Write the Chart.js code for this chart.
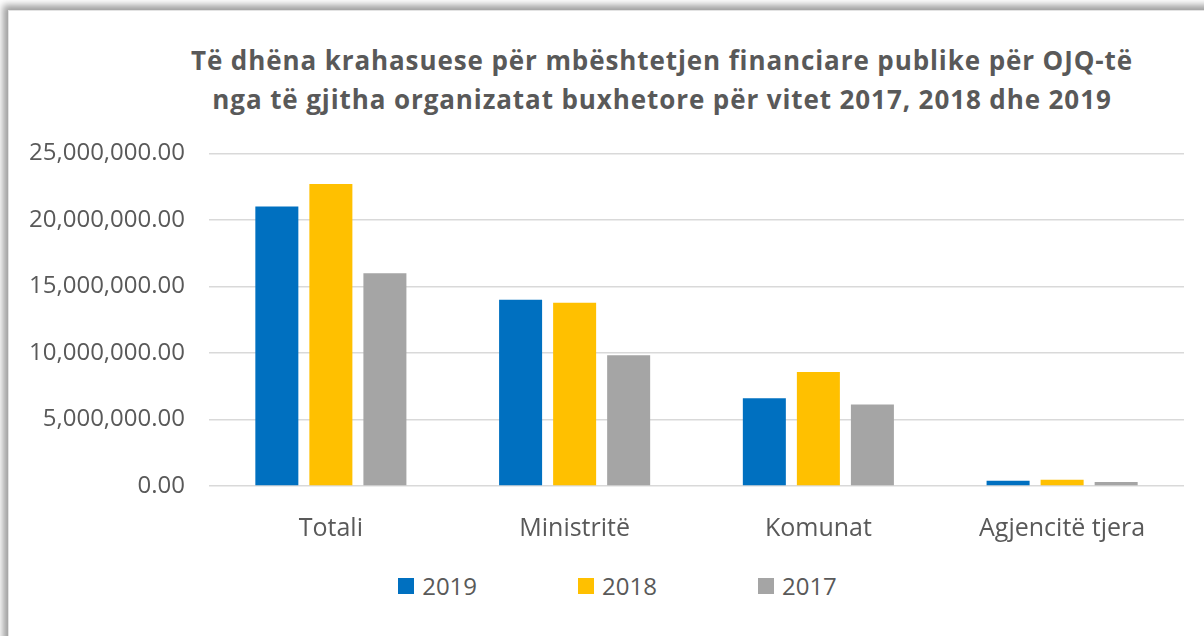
<!DOCTYPE html>
<html>
<head>
<meta charset="utf-8">
<script src="https://cdn.jsdelivr.net/npm/chart.js@4"></script>
<style>
  html, body { margin: 0; padding: 0; width: 1204px; height: 636px; overflow: hidden; background: #fff; }
  .frame {
    position: absolute; left: 8px; top: 10px; width: 1400px; height: 800px;
    background: #fff; border-left: 1px solid #e3e3e3; border-top: 1px solid #e3e3e3;
    box-shadow: -4px -4px 7px 1px rgba(0,0,0,0.38);
  }
  .title {
    position: absolute; left: 162px; top: 41px; width: 1000px;
    text-align: center; font: bold 26px "Open Sans", sans-serif; letter-spacing: 0.9px;
    line-height: 39px; color: #595959;
  }
  .chart-box { position: absolute; left: 0; top: 115px; width: 1204px; height: 435px; }
  #legend {
    position: absolute; left: 0; top: 569px; width: 1235px;
    display: flex; justify-content: center; gap: 101px;
    font: 24px "Open Sans", sans-serif; color: #595959;
  }
  #legend .item { display: flex; align-items: center; gap: 8px; }
  #legend .box { width: 16px; height: 16px; }
</style>
</head>
<body>
<div class="frame"></div>
<div class="title">Të dhëna krahasuese për mbështetjen financiare publike për OJQ-të<br>nga të gjitha organizatat buxhetore për vitet 2017, 2018 dhe 2019</div>
<div class="chart-box"><canvas id="myChart"></canvas></div>
<div id="legend"></div>

<script>
// data

const categories = ['Totali', 'Ministritë', 'Komunat', 'Agjencitë tjera'];
const series = ['2019', '2018', '2017'];
const values2019 = [21000000, 14000000, 6600000, 400000];
const values2018 = [22700000, 13770000, 8570000, 470000];
const values2017 = [16000000, 9820000, 6120000, 300000];
const colors = ['#0070C0', '#FFC000', '#A5A5A5'];
const yTicks = [0, 5000000, 10000000, 15000000, 20000000, 25000000];

const textColor = '#595959';

// html legend built from the chart datasets
const htmlLegend = {
  id: 'htmlLegend',
  afterUpdate(chart) {
    const box = document.getElementById('legend');
    box.innerHTML = '';
    chart.data.datasets.forEach(function(ds) {
      const item = document.createElement('div');
      item.className = 'item';
      const sq = document.createElement('span');
      sq.className = 'box';
      sq.style.background = ds.backgroundColor;
      const txt = document.createElement('span');
      txt.textContent = ds.label;
      item.appendChild(sq);
      item.appendChild(txt);
      box.appendChild(item);
    });
  }
};

const ctx = document.getElementById('myChart');

new Chart(ctx, {
  type: 'bar',
  data: {
    labels: categories,
    datasets: [
      { label: series[0], data: values2019, backgroundColor: colors[0] },
      { label: series[1], data: values2018, backgroundColor: colors[1] },
      { label: series[2], data: values2017, backgroundColor: colors[2] }
    ]
  },
  options: {
    responsive: true,
    maintainAspectRatio: false,
    animation: false,
    categoryPercentage: 0.665,
    barPercentage: 0.796,
    layout: { padding: { top: 29, right: 20, bottom: 0, left: 0 } },
    plugins: {
      legend: { display: false },
      title: { display: false },
      tooltip: { enabled: false }
    },
    scales: {
      x: {
        grid: { display: false },
        border: { display: false },
        ticks: { color: textColor, font: { family: 'Open Sans', size: 25 }, padding: 20, maxRotation: 0 },
        afterFit(axis) { axis.height = 64; }
      },
      y: {
        min: 0,
        max: 25000000,
        afterBuildTicks(axis) { axis.ticks = yTicks.map(v => ({ value: v })); },
        grid: { color: '#d9d9d9', lineWidth: 1.6, drawTicks: false },
        border: { display: false },
        ticks: {
          color: textColor,
          font: { family: 'Open Sans', size: 24 },
          padding: 24,
          callback: v => v.toLocaleString('en-US', { minimumFractionDigits: 2, maximumFractionDigits: 2 })
        },
        afterFit(axis) { axis.width = 209; }
      }
    }
  },
  plugins: [htmlLegend]
});
</script>
</body>
</html>
